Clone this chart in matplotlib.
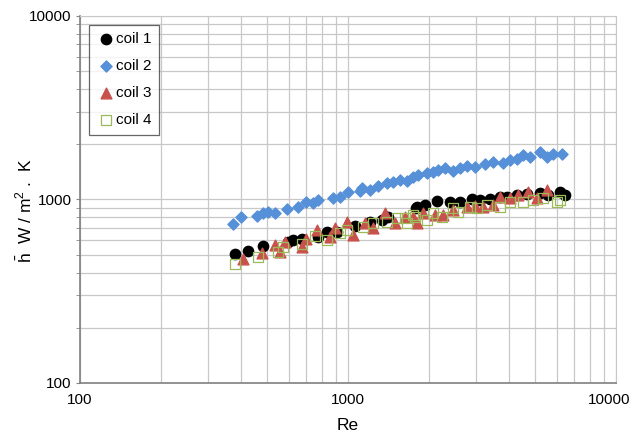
import matplotlib
matplotlib.use("Agg")
from matplotlib import pyplot as plt
from matplotlib import transforms
from matplotlib.ticker import LogLocator, FixedLocator, NullFormatter

plt.rcParams["font.family"] = ["Liberation Sans", "DejaVu Sans"]
plt.rcParams["mathtext.fontset"] = "custom"
plt.rcParams["mathtext.rm"] = "Liberation Sans"

# coil 1 (black circles)
re_coil1 = [379, 423, 482, 597, 623, 673, 773, 835, 910, 1062, 1208, 1340, 1409, 1794, 1808,
            1937, 2147, 2402, 2618, 2904, 3112, 3388, 3690, 3919, 4271, 4656, 5203, 5572, 6180, 6457]
h_coil1 = [505, 524, 559, 587, 602, 610, 625, 665, 665, 717, 754, 773, 803, 899, 911,
           934, 982, 969, 969, 1007, 993, 1007, 1033, 1033, 1059, 1072, 1084, 1059, 1099, 1059]

# coil 2 (blue diamonds)
re_coil2 = [372, 399, 458, 482, 503, 534, 592, 651, 697, 740, 773, 879, 934, 1000, 1109,
            1128, 1208, 1294, 1399, 1472, 1563, 1660, 1750, 1824, 1972, 2075, 2168, 2301, 2466,
            2618, 2780, 2979, 3246, 3475, 3787, 4020, 4271, 4498, 4775, 5203, 5528, 5823, 6291]
h_coil2 = [736, 803, 812, 844, 855, 844, 888, 911, 969, 958, 993, 1019, 1033, 1099, 1112,
           1156, 1127, 1186, 1230, 1245, 1277, 1262, 1327, 1361, 1393, 1413, 1449, 1486, 1429,
           1486, 1524, 1503, 1560, 1600, 1581, 1641, 1663, 1750, 1706, 1815, 1706, 1770, 1770]

# coil 3 (red triangles)
re_coil3 = [406, 478, 534, 557, 582, 673, 697, 766, 857, 894, 991, 1045, 1157, 1239, 1374,
            1496, 1633, 1750, 1808, 1905, 2113, 2260, 2466, 2780, 2979, 3190, 3475, 3690, 4020,
            4306, 4696, 5070, 5528]
h_coil3 = [474, 511, 565, 518, 587, 551, 610, 682, 625, 700, 754, 641, 745, 700, 844,
           745, 803, 803, 745, 844, 824, 824, 877, 911, 922, 911, 934, 1033, 1019,
           1059, 1099, 1019, 1127]

# coil 4 (green open squares)
re_coil4 = [379, 461, 548, 572, 673, 753, 835, 934, 991, 1137, 1239, 1399, 1524, 1633, 1660,
            1750, 1778, 1972, 2075, 2244, 2466, 2572, 2851, 3027, 3301, 3690, 4020, 4498, 4900,
            5346, 6026, 6180]
h_coil4 = [445, 486, 518, 551, 572, 633, 602, 657, 682, 708, 745, 754, 793, 793, 745,
           824, 803, 773, 844, 803, 899, 855, 911, 899, 934, 911, 969, 969, 993,
           1019, 969, 993]

fig = plt.figure(figsize=(6.33, 4.38), dpi=100)
ax = fig.add_axes([0.1264, 0.1256, 0.8467, 0.8379])

ax.scatter(re_coil1, h_coil1, marker="o", s=55, color="black", label="coil 1", zorder=3)
ax.scatter(re_coil2, h_coil2, marker="D", s=32, color="#5590d8", label="coil 2", zorder=3)
ax.scatter(re_coil3, h_coil3, marker="^", s=60, color="#c9514c", label="coil 3", zorder=3)
ax.scatter(re_coil4, h_coil4, marker="s", s=55, facecolor="none", edgecolor="#9bbb59",
           linewidth=0.9, label="coil 4", zorder=3)

ax.set_xscale("log")
ax.set_yscale("log")
ax.set_xlim(100, 10000)
ax.set_ylim(100, 10000)

ax.xaxis.set_major_locator(FixedLocator([100, 1000, 10000]))
ax.yaxis.set_major_locator(FixedLocator([100, 1000, 10000]))
ax.xaxis.set_minor_locator(LogLocator(base=10, subs=range(2, 10)))
ax.yaxis.set_minor_locator(LogLocator(base=10, subs=range(2, 10)))
ax.xaxis.set_minor_formatter(NullFormatter())
ax.yaxis.set_minor_formatter(NullFormatter())
ax.set_xticklabels(["100", "1000", "10000"])
ax.set_yticklabels(["100", "1000", "10000"])

ax.grid(True, which="both", color="#c8c8c8", linewidth=0.9)
ax.set_axisbelow(True)
ax.tick_params(axis="both", which="both", direction="out", length=3, color="#888888",
               labelsize=11, pad=3)
ax.tick_params(axis="x", which="both", length=0, pad=7)

# the last x label sits a little left, as in the original
last = ax.get_xticklabels()[-1]
last.set_transform(last.get_transform() + transforms.ScaledTranslation(-0.07, 0, fig.dpi_scale_trans))

for side in ["left", "bottom"]:
    ax.spines[side].set_color("#808080")
    ax.spines[side].set_linewidth(1.2)
for side in ["top", "right"]:
    ax.spines[side].set_color("#c8c8c8")

ax.set_xlabel("Re", fontsize=12.5, labelpad=8)
ax.set_ylabel(r"$\bar{\rm h}$  W / m$^2$ .  K", fontsize=12.5)
ax.yaxis.set_label_coords(-0.086, 0.47)

leg = ax.legend(loc="upper left", bbox_to_anchor=(0.012, 0.985), fontsize=11,
                frameon=True, fancybox=False, edgecolor="#404040", handletextpad=0.05,
                borderpad=0.5, labelspacing=0.85, handlelength=1.2, borderaxespad=0.2)
leg.get_frame().set_linewidth(0.9)

plt.savefig("out.png", dpi=100)
